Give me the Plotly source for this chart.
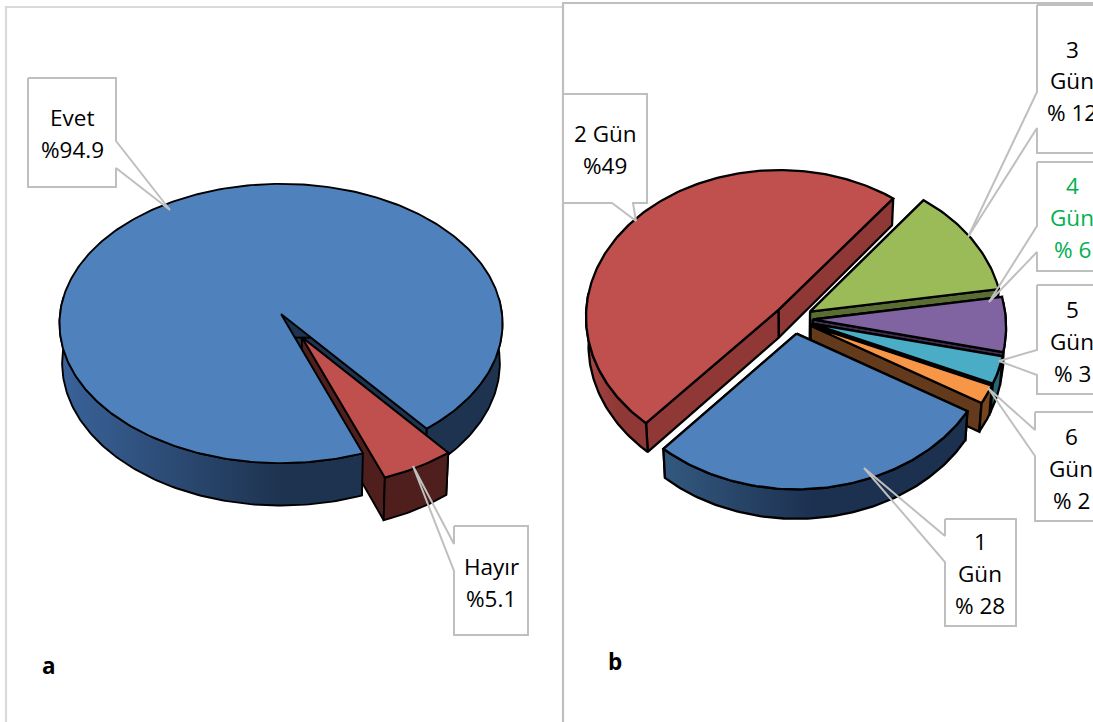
import numpy as np
import plotly.graph_objects as go

# Panel a: yes / no shares
labels_a = ["Evet", "Hayır"]
values_a = [94.9, 5.1]
explode_a = [0.0, 0.19]
top_a = ["#4F81BD", "#C0504D"]
wall_a = [["#3A639A", "#1E3350", "#1E3350"], ["#4F1F1D", "#4F1F1D", "#4F1F1D"]]
face_a = ["#1E3350", "#4F1F1D"]

# Panel b: number of days
labels_b = ["1 Gün", "2 Gün", "3 Gün", "4 Gün", "5 Gün", "6 Gün"]
values_b = [28, 49, 12, 6, 3, 2]
explode_b = [0.1, 0.1, 0.1, 0.1, 0.1, 0.1]
top_b = ["#4F81BD", "#C0504D", "#9BBB59", "#8064A2", "#4BACC6", "#F79646"]
wall_b = [["#33597F", "#1C3050", "#1C3050"], ["#A84744", "#8F3836", "#8F3836"],
          ["#5A6E34", "#5A6E34", "#5A6E34"], ["#4A3A60", "#4A3A60", "#4A3A60"],
          ["#2A6475", "#2A6475", "#2A6475"], ["#74451F", "#74451F", "#74451F"]]
face_b = ["#1C3050", "#8F3836", "#5A6E34", "#3E3052", "#2A6475", "#633A1C"]
order_b = [1, 2, 3, 4, 5, 0]

text_font = "Open Sans"
text_size = 22.5

fig = go.Figure()


def polygon(xs, ys, fill=None, gradient=None, line="black", lw=1.6):
    kw = dict(x=list(xs), y=list(ys), mode="lines", hoverinfo="skip", showlegend=False)
    if line:
        kw["line"] = dict(color=line, width=lw)
    else:
        kw["line"] = dict(width=0)
    if gradient:
        n = len(gradient) - 1
        stops = [[i / n, c] for i, c in enumerate(gradient)]
        kw["fill"] = "toself"
        kw["fillgradient"] = dict(type="horizontal", colorscale=stops)
    elif fill:
        kw["fill"] = "toself"
        kw["fillcolor"] = fill
    fig.add_trace(go.Scatter(**kw))


def draw_pie(values, explode, tops, walls, faces, start, order, cx, cy, R, S, k, D, shrink, lw, radius=None):
    """Draws an exploded 3D pie; angles run clockwise from twelve o'clock.

    Layers go cut faces, outer walls, top faces, so nearer surfaces hide the
    inner faces of the neighbouring slices.
    """
    total = sum(values)
    angles = [start]
    for v in values:
        angles.append(angles[-1] + v / total * 360)

    def project(x, y, z):
        w = 1 - k * y
        return cx + R * x / w * (1 - shrink * z), cy + S * y / w + D * z / w

    geometry = {}
    for i in order:
        a0, a1 = np.radians(angles[i]), np.radians(angles[i + 1])
        mid = (a0 + a1) / 2
        ox, oy = explode[i] * np.sin(mid), -explode[i] * np.cos(mid)
        rad = radius[i] if radius else 1.0
        t = np.linspace(a0, a1, max(8, int((a1 - a0) * 60)))
        geometry[i] = (ox, oy, t, ox + rad * np.sin(t), oy - rad * np.cos(t))

        for ang in (a0, a1):
            ex, ey = ox + rad * np.sin(ang), oy - rad * np.cos(ang)
            corners = [project(ox, oy, 0), project(ex, ey, 0), project(ex, ey, 1), project(ox, oy, 1)]
            corners.append(corners[0])
            polygon([c[0] for c in corners], [c[1] for c in corners], fill=faces[i], lw=lw)

    # outer walls, kept to the part of the rim that faces the viewer
    for i in order:
        ox, oy, t, px, py = geometry[i]
        front = np.cos(t) < 0.12
        if front.any():
            fx, fy = px[front], py[front]
            upper = [project(a, b, 0) for a, b in zip(fx, fy)]
            lower = [project(a, b, 1) for a, b in zip(fx, fy)]
            ring = upper + lower[::-1] + upper[:1]
            polygon([c[0] for c in ring], [c[1] for c in ring], gradient=walls[i], lw=lw)

    # top faces
    for i in order:
        ox, oy, t, px, py = geometry[i]
        rim = [project(ox, oy, 0)] + [project(a, b, 0) for a, b in zip(px, py)] + [project(ox, oy, 0)]
        polygon([c[0] for c in rim], [c[1] for c in rim], fill=tops[i], lw=lw)


def callout(x0, y0, x1, y1, pointer):
    """White label box with an open wedge pointing at its slice."""
    polygon([x0, x1, x1, x0, x0], [y0, y0, y1, y1, y0], fill="white", line=None)
    path = pointer + [pointer[0]]
    fig.add_trace(go.Scatter(x=[p[0] for p in path], y=[p[1] for p in path], mode="lines",
                             line=dict(color="#BFBFBF", width=2), hoverinfo="skip", showlegend=False))


def text_lines(x, ys, lines, color="black"):
    for y, line in zip(ys, lines):
        fig.add_annotation(x=x, y=y, text=line, showarrow=False, xref="x", yref="y",
                           xanchor="center", yanchor="middle",
                           font=dict(family=text_font, size=text_size, color=color))


# panel frames
for xs, ys, col in [([6, 6, 563], [730, 7, 7], "#D9D9D9"),
                    ([563, 563, 1100], [730, 3, 3], "#BFBFBF")]:
    fig.add_trace(go.Scatter(x=xs, y=ys, mode="lines", line=dict(color=col, width=2.2),
                             hoverinfo="skip", showlegend=False))

draw_pie(values_a, explode_a, top_a, wall_a, face_a, 159.7, [0, 1],
         cx=281, cy=314, R=221, S=139, k=0.068, D=39.5, shrink=0.012, lw=1.9, radius=[1.0, 0.985])
draw_pie(values_b, explode_b, top_b, wall_b, face_b, 120.7, order_b,
         cx=793.5, cy=319, R=193, S=147, k=0.047, D=28, shrink=0.012, lw=2.3)

# label boxes
callout(28, 78, 116, 187, [(28, 78), (116, 78), (116, 141), (170, 210), (116, 168), (116, 187), (28, 187)])
callout(454, 526, 528, 635, [(454, 526), (528, 526), (528, 635), (454, 635), (454, 571), (413, 466), (454, 544)])
callout(563, 94, 647, 203, [(563, 94), (647, 94), (647, 203), (633, 203), (636, 221), (612, 203), (563, 203)])
callout(1037, 5, 1120, 153, [(1037, 5), (1120, 5), (1120, 153), (1037, 153), (1037, 128), (968, 237), (1037, 92)])
callout(1037, 162, 1120, 271, [(1037, 162), (1120, 162), (1120, 271), (1037, 271), (1037, 252), (989, 302), (1037, 226)])
callout(1037, 285, 1120, 394, [(1037, 285), (1120, 285), (1120, 394), (1037, 394), (1037, 375), (999, 361), (1037, 350)])
callout(1035, 412, 1120, 521, [(1035, 412), (1120, 412), (1120, 521), (1035, 521), (1035, 456), (988, 388), (1035, 430)])
callout(945, 519, 1016, 626, [(945, 519), (1016, 519), (1016, 626), (945, 626), (945, 562), (864, 468), (945, 536)])

# label texts
text_lines(72, [117, 149], [labels_a[0], "%94.9"])
text_lines(491, [566, 598], [labels_a[1], "%5.1"])
text_lines(605, [133, 165], [labels_b[1], "%49"])
text_lines(1072, [49, 80, 112], ["3", "Gün", "% 12"])
text_lines(1072, [185, 217, 249], ["4", "Gün", "% 6"], color="#00B050")
text_lines(1072, [309, 341, 373], ["5", "Gün", "% 3"])
text_lines(1071, [436, 468, 500], ["6", "Gün", "% 2"])
text_lines(980, [541, 573, 605], ["1", "Gün", "% 28"])

for x, y, t in [(49, 665, "a"), (615, 661, "b")]:
    fig.add_annotation(x=x, y=y, text=f"<b>{t}</b>", showarrow=False, xref="x", yref="y",
                       font=dict(family=text_font, size=text_size, color="black"))

fig.update_layout(width=1093, height=722, margin=dict(l=0, r=0, t=0, b=0),
                  paper_bgcolor="white", plot_bgcolor="white", showlegend=False,
                  xaxis=dict(range=[0, 1093], visible=False, fixedrange=True),
                  yaxis=dict(range=[722, 0], visible=False, fixedrange=True))
fig.write_html("out.html", config=dict(displayModeBar=False))
